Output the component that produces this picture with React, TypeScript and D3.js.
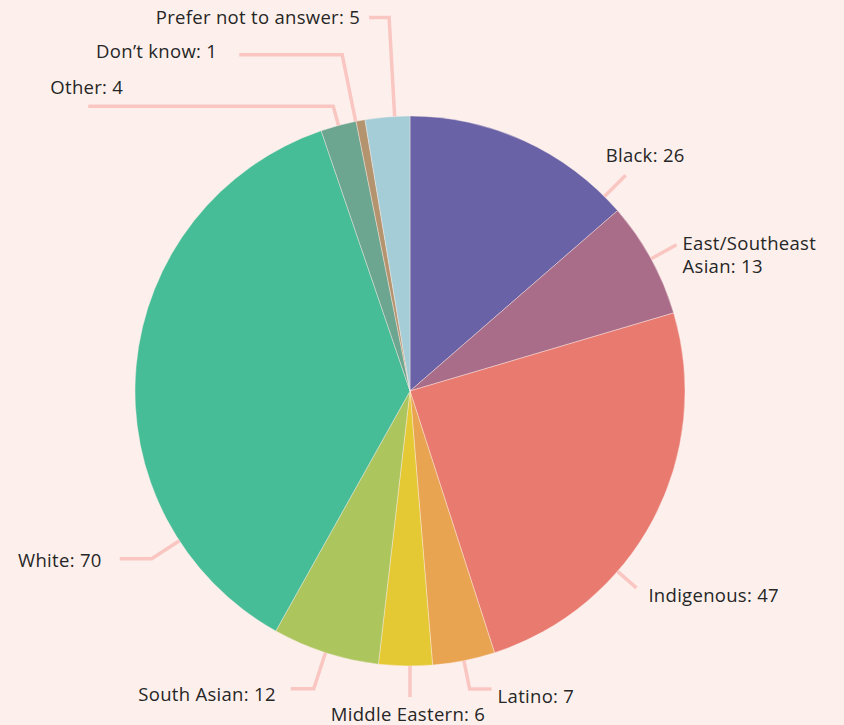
import React from "react";
import * as d3 from "d3";

const categories = [
  "Black",
  "East/Southeast Asian",
  "Indigenous",
  "Latino",
  "Middle Eastern",
  "South Asian",
  "White",
  "Other",
  "Don\u2019t know",
  "Prefer not to answer",
];
const values = [26, 13, 47, 7, 6, 12, 70, 4, 1, 5];
const colors = [
  "#6a62a6",
  "#a96d8a",
  "#e97a70",
  "#e9a452",
  "#e5c934",
  "#adc55d",
  "#46bd96",
  "#6ca590",
  "#b3946f",
  "#a5cdd7",
];
const labelLines = [
  ["Black: 26"],
  ["East/Southeast", "Asian: 13"],
  ["Indigenous: 47"],
  ["Latino: 7"],
  ["Middle Eastern: 6"],
  ["South Asian: 12"],
  ["White: 70"],
  ["Other: 4"],
  ["Don\u2019t know: 1"],
  ["Prefer not to answer: 5"],
];

// label layout: angle override (deg), elbow radius, horizontal run, text offset, anchor
type L = { angle?: number; elbowR: number; h: number; dx: number; dy: number; anchor: string };
const layout: L[] = [
  { angle: 45, elbowR: 305, h: 0, dx: -20, dy: -21, anchor: "start" },
  { elbowR: 304, h: 0, dx: 6, dy: -2, anchor: "start" },
  { angle: 131, elbowR: 300, h: 0, dx: 12, dy: 7, anchor: "start" },
  { elbowR: 304, h: 22, dx: 6, dy: 6, anchor: "start" },
  { angle: 180, elbowR: 306, h: 0, dx: -2, dy: 16, anchor: "middle" },
  { elbowR: 313, h: -23, dx: -15, dy: 5, anchor: "end" },
  { angle: 237, elbowR: 308, h: -32, dx: -18, dy: 1, anchor: "end" },
  { elbowR: 295, h: -245, dx: 35, dy: -20, anchor: "end" },
  { angle: 348.6, elbowR: 343, h: -103, dx: -22, dy: -4, anchor: "end" },
  { angle: 356.8, elbowR: 374, h: -20, dx: -9, dy: -1, anchor: "end" },
];

const W = 844;
const H = 725;
const cx = 410;
const cy = 391;
const R = 275;

export default function App() {
  const data = categories.map((c, i) => ({ c, v: values[i], i }));
  const pie = d3.pie<any>().value((d) => d.v).sort(null);
  const arcs = pie(data);
  const arc = d3.arc<any>().innerRadius(0).outerRadius(R);

  return (
    <svg
      width={W}
      height={H}
      style={{ position: "fixed", left: 0, top: 0, background: "#fdf0ec" }}
      fontFamily="'Open Sans', Lato, sans-serif"
    >
      <rect width={W} height={H} fill="#fdf0ec" />
      <g transform={`translate(${cx},${cy})`}>
        {arcs.map((a, i) => (
          <path key={i} d={arc(a) || ""} fill={colors[i]} stroke="#fdf0ec" strokeWidth={0.4} />
        ))}
        {arcs.map((a, i) => {
          const l = layout[i];
          const ang = l.angle !== undefined ? (l.angle * Math.PI) / 180 : (a.startAngle + a.endAngle) / 2;
          const sx = R * Math.sin(ang);
          const sy = -R * Math.cos(ang);
          const ex = l.elbowR * Math.sin(ang);
          const ey = -l.elbowR * Math.cos(ang);
          const hx = ex + l.h;
          const tx = hx + l.dx;
          const ty = ey + l.dy;
          return (
            <g key={"l" + i}>
              <polyline
                points={`${sx},${sy} ${ex},${ey} ${hx},${ey}`}
                fill="none"
                stroke="#f9c6c2"
                strokeWidth={3.5}
              />
              {labelLines[i].map((t, k) => (
                <text
                  key={k}
                  x={tx}
                  y={ty + k * 23}
                  textAnchor={l.anchor}
                  dominantBaseline="central"
                  fontSize={18.5}
                  letterSpacing={0.3}
                  fill="#262626"
                >
                  {t}
                </text>
              ))}
            </g>
          );
        })}
      </g>
    </svg>
  );
}
